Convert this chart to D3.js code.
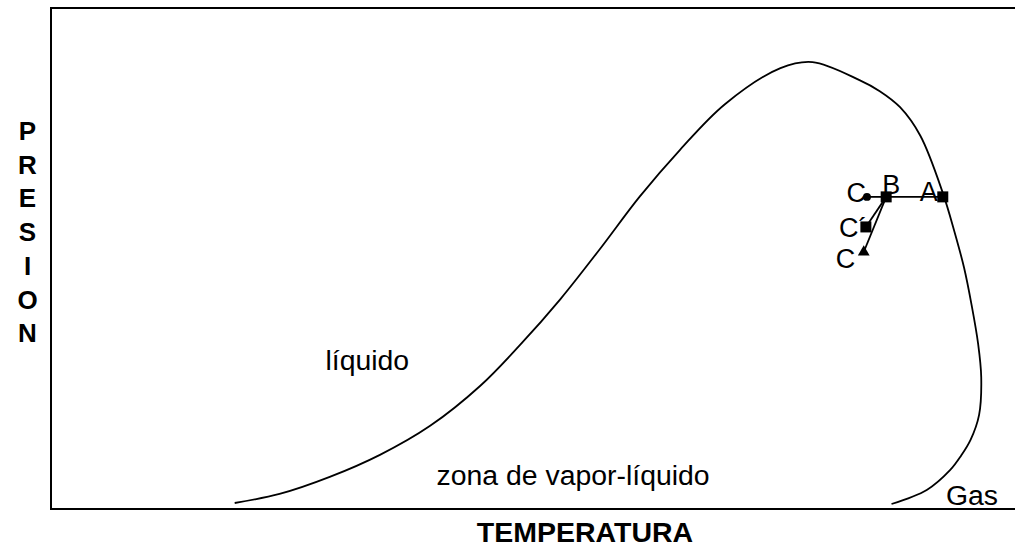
<!DOCTYPE html>
<meta charset="utf-8">
<script src="https://d3js.org/d3.v7.min.js"></script>
<style>
  body { margin: 0; background: #fff; font-family: Arial, "Liberation Sans", Helvetica, sans-serif; }
</style>
<body>
<div id="chart"></div>
<script>
// envelope curve (temperature, pressure) in relative units 0-100
const envT = [17.2, 21.4, 26.1, 30.8, 35.5, 40.2, 43.9, 47.7, 51.4, 55.1, 58.9, 63.1, 68.3, 71.3,
              75.7, 77.6, 79.5, 81.4, 83.5, 84.6, 85.5, 86.2, 86.8, 87.1, 86.9, 86.1, 85.2, 84.2,
              82.0, 78.7];
const envP = [1.2, 3.0, 6.4, 10.8, 16.6, 24.6, 32.7, 41.9, 51.9, 62.3, 71.7, 80.8, 88.0, 89.2,
              85.6, 83.4, 80.2, 74.5, 63.1, 55.3, 48.1, 40.7, 33.1, 26.3, 18.8, 13.8, 10.6, 7.8,
              3.8, 1.0];

// process points
const ptNames = ["A", "B", "C", "C´", "C"];
const ptT = [83.5, 78.2, 76.4, 76.3, 76.1];
const ptP = [62.3, 62.3, 62.3, 56.3, 51.3];
const ptShape = ["square", "square", "circle", "square", "triangle"];
// segments between points (index pairs)
const links = [[0, 1], [1, 2], [1, 3], [1, 4]];

const regionText = ["líquido", "zona de vapor-líquido", "Gas"];
const regionT = [25.7, 36.1, 83.8];
const regionP = [27.7, 4.8, 0.8];

const W = 1015, H = 549;
const margin = {top: 8, left: 51, bottom: 40};
const plotW = 1068, plotH = H - margin.top - margin.bottom;

const svg = d3.select("#chart").append("svg")
    .attr("width", W).attr("height", H);
const g = svg.append("g")
    .attr("transform", `translate(${margin.left}, ${margin.top})`);

const x = d3.scaleLinear().domain([0, 100]).range([0, plotW]);
const y = d3.scaleLinear().domain([0, 100]).range([plotH, 0]);

// frame
g.append("rect")
  .attr("x", 0).attr("y", 0)
  .attr("width", plotW).attr("height", plotH)
  .attr("fill", "none").attr("stroke", "#000").attr("stroke-width", 2);

// envelope
const env = envT.map((t, i) => [t, envP[i]]);
g.append("path")
  .datum(env)
  .attr("fill", "none")
  .attr("stroke", "#000")
  .attr("stroke-width", 1.8)
  .attr("d", d3.line()
    .x(d => x(d[0]))
    .y(d => y(d[1]))
    .curve(d3.curveCatmullRom.alpha(0.5)));

// process lines
g.selectAll(".seg")
  .data(links)
  .join("line")
    .attr("class", "seg")
    .attr("x1", d => x(ptT[d[0]])).attr("y1", d => y(ptP[d[0]]))
    .attr("x2", d => x(ptT[d[1]])).attr("y2", d => y(ptP[d[1]]))
    .attr("stroke", "#000").attr("stroke-width", 1.8);

// markers
const symType = {square: d3.symbolSquare, circle: d3.symbolCircle, triangle: d3.symbolTriangle};
const symSize = {square: 121, circle: 50, triangle: 60};
g.selectAll(".pt")
  .data(ptNames.map((n, i) => i))
  .join("path")
    .attr("class", "pt")
    .attr("transform", i => `translate(${x(ptT[i])}, ${y(ptP[i])})`)
    .attr("d", i => d3.symbol(symType[ptShape[i]], symSize[ptShape[i]])())
    .attr("fill", "#000");

// point labels (offsets in px)
const lblOff = [[-5, 4, "end"], [-4, -3, "start"], [-1, 5, "end"], [-27, 10, "start"], [-28, 16, "start"]];
g.selectAll(".lbl")
  .data(ptNames.map((n, i) => i))
  .join("text")
    .attr("class", "lbl")
    .attr("x", i => x(ptT[i]) + lblOff[i][0])
    .attr("y", i => y(ptP[i]) + lblOff[i][1])
    .attr("text-anchor", i => lblOff[i][2])
    .style("font-size", "27px")
    .text(i => ptNames[i]);

// region labels
g.selectAll(".region")
  .data(regionText)
  .join("text")
    .attr("class", "region")
    .attr("x", (d, i) => x(regionT[i]))
    .attr("y", (d, i) => y(regionP[i]))
    .style("font-size", "28.4px")
    .text(d => d);

// axis titles
svg.append("text")
  .attr("x", 585).attr("y", 542)
  .attr("text-anchor", "middle")
  .style("font-size", "28.5px").style("font-weight", "bold")
  .text("TEMPERATURA");

const yTitle = "PRESION".split("");
svg.append("g").selectAll("text")
  .data(yTitle)
  .join("text")
    .attr("x", 27.5)
    .attr("y", (d, i) => 140 + i * 33.7)
    .attr("text-anchor", "middle")
    .style("font-size", "26px").style("font-weight", "bold")
    .text(d => d);
</script>
</body>
